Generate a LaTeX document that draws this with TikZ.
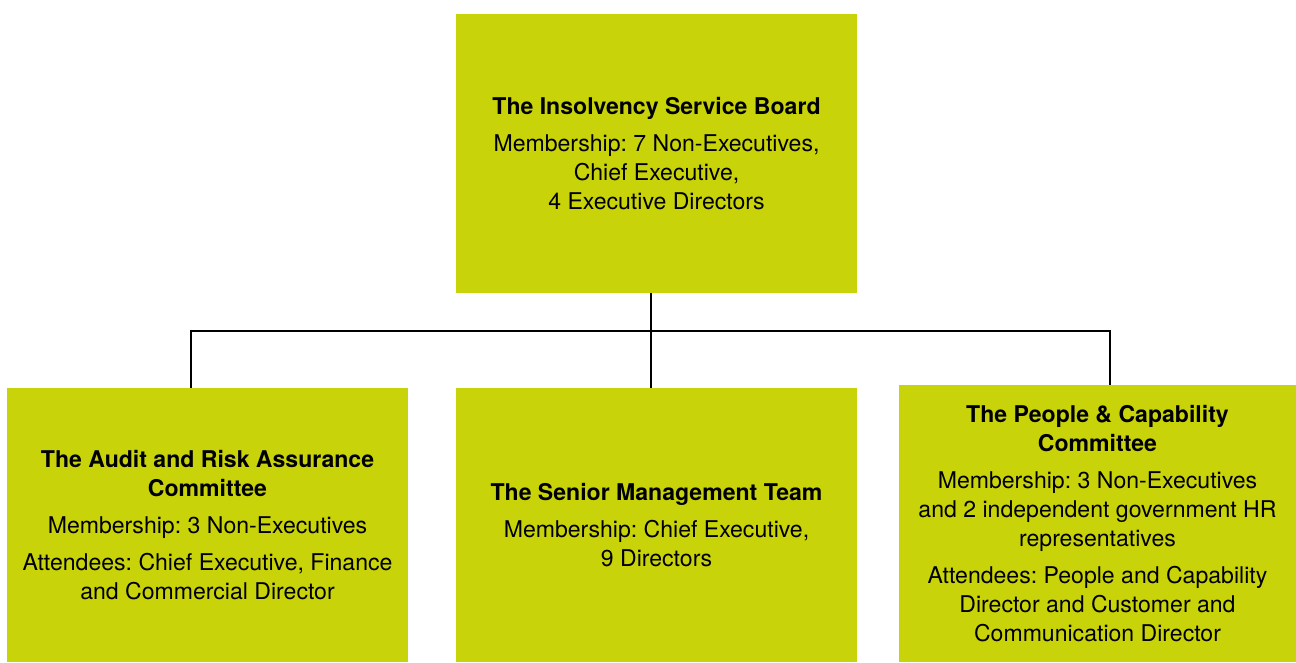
\documentclass[tikz,border=0pt]{standalone}
\usepackage{fontspec}
\setmainfont{TeX Gyre Heros}
\usetikzlibrary{calc}

\definecolor{boardgreen}{RGB}{201,211,9}
\frenchspacing

\begin{document}
\begin{tikzpicture}[
    x=0.75pt, y=-0.75pt,
    font=\fontsize{17.3}{21.75}\selectfont,
    box/.style={fill=boardgreen, align=center, inner sep=0pt,
                minimum width=300.75pt, minimum height=205.5pt},
    link/.style={line width=0.9pt}
]

    % Page frame
    \useasboundingbox (0, 0) rectangle (1296, 662);

    % Board
    \node[box, minimum height=209.25pt] (board) at (656.5, 153.5)
        {\textbf{The Insolvency Service Board}\\[6pt]
         Membership: 7 Non-Executives,\\ Chief Executive,\\ 4 Executive Directors};

    % Committees and team
    \node[box] (audit) at (207.5, 525)
        {\textbf{The Audit and Risk Assurance}\\ \textbf{Committee}\\[6pt]
         Membership: 3 Non-Executives\\[6pt]
         Attendees: Chief Executive, Finance\\ and Commercial Director};
    \node[box] (smt) at (656.5, 525)
        {\textbf{The Senior Management Team}\\[6pt]
         Membership: Chief Executive,\\ 9 Directors};
    \node[box, minimum width=297.75pt, minimum height=207.75pt] (people) at (1097.5, 523.5)
        {\textbf{The People \& Capability}\\ \textbf{Committee}\\[6pt]
         Membership: 3 Non-Executives\\ and 2 independent government HR\\ representatives\\[6pt]
         Attendees: People and Capability\\ Director and Customer and\\ Communication Director};

    % Bus line
    \coordinate (busL) at (191, 331);
    \coordinate (busM) at (651, 331);
    \coordinate (busR) at (1110, 331);

    \draw[link] (busM |- board.south) -- (busM |- smt.north);
    \draw[link] (busL |- audit.north) -- (busL) -- (busR) -- (busR |- people.north);

\end{tikzpicture}
\end{document}
